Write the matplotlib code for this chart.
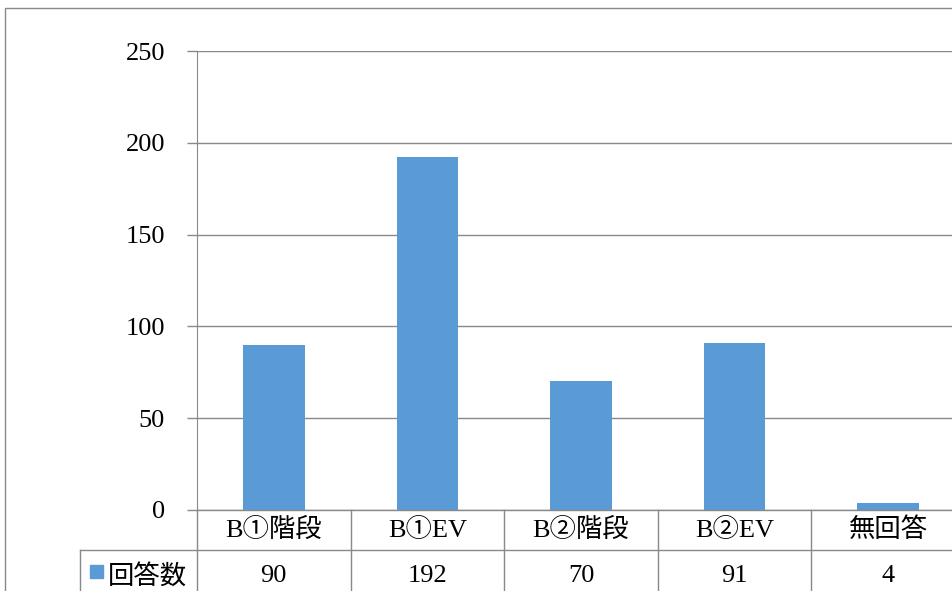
import matplotlib.pyplot as plt
from matplotlib.patches import Rectangle
from matplotlib.transforms import blended_transform_factory

plt.rcParams['font.family'] = ['Liberation Serif', 'Noto Sans CJK JP']

categories = ['B①階段', 'B①EV', 'B②階段', 'B②EV', '無回答']
values = [90, 192, 70, 91, 4]
series_name = '回答数'
yticks = [0, 50, 100, 150, 200, 250]

W, H = 952, 591
bar_color = '#5B9BD5'
line_color = '#898989'
fs = 19

fig = plt.figure(figsize=(W / 100, H / 100), dpi=100)

# plot area in pixel coordinates (right edge runs past the picture)
left, right, top, bottom = 197, 965, 51, 510
ax = fig.add_axes([left / W, 1 - bottom / H, (right - left) / W, (bottom - top) / H])

x = range(len(categories))
ax.bar(x, values, width=0.40, color=bar_color, zorder=3)
ax.set_xlim(-0.5, len(categories) - 0.5)
ax.set_ylim(0, 250)
ax.set_yticks(yticks)
ax.set_yticklabels([str(t) for t in yticks], fontsize=fs)
ax.set_xticks([])
ax.grid(axis='y', color=line_color, linewidth=1)
ax.tick_params(axis='y', length=7, color=line_color, width=1, pad=16)
for s in ['top', 'right', 'bottom']:
    ax.spines[s].set_visible(False)
ax.spines['left'].set_color(line_color)

# data table below the plot
tr = blended_transform_factory(ax.transData, fig.transFigure)
def fy(py):
    return 1 - py / H

row1, row_end = 550, 620
# vertical category lines
for i in range(len(categories) + 1):
    ax.add_line(plt.Line2D([i - 0.5, i - 0.5], [fy(bottom), fy(row_end)],
                           transform=tr, color=line_color, lw=1, clip_on=False))
# horizontal lines
fig.add_artist(plt.Line2D([80 / W, 1.0], [fy(row1), fy(row1)], color=line_color, lw=1))
fig.add_artist(plt.Line2D([left / W, 1.0], [fy(bottom), fy(bottom)], color=line_color, lw=1))
fig.add_artist(plt.Line2D([80 / W, 80 / W], [fy(row1), fy(row_end)], color=line_color, lw=1))

for i, (c, v) in enumerate(zip(categories, values)):
    ax.text(i, fy(530), c, transform=tr, ha='center', va='center', fontsize=fs)
    ax.text(i, fy(576), str(v), transform=tr, ha='center', va='center', fontsize=fs)

# legend key in table
fig.add_artist(Rectangle((90 / W, fy(578)), 13 / W, 13 / H, color=bar_color,
                         transform=fig.transFigure))
fig.text(108 / W, fy(576), series_name, ha='left', va='center', fontsize=fs)

# outer chart border
fig.add_artist(Rectangle((5 / W, -0.1), 1.1, fy(8) + 0.1, fill=False,
                         edgecolor=line_color, lw=1, transform=fig.transFigure))

fig.savefig('out.png', dpi=100)
